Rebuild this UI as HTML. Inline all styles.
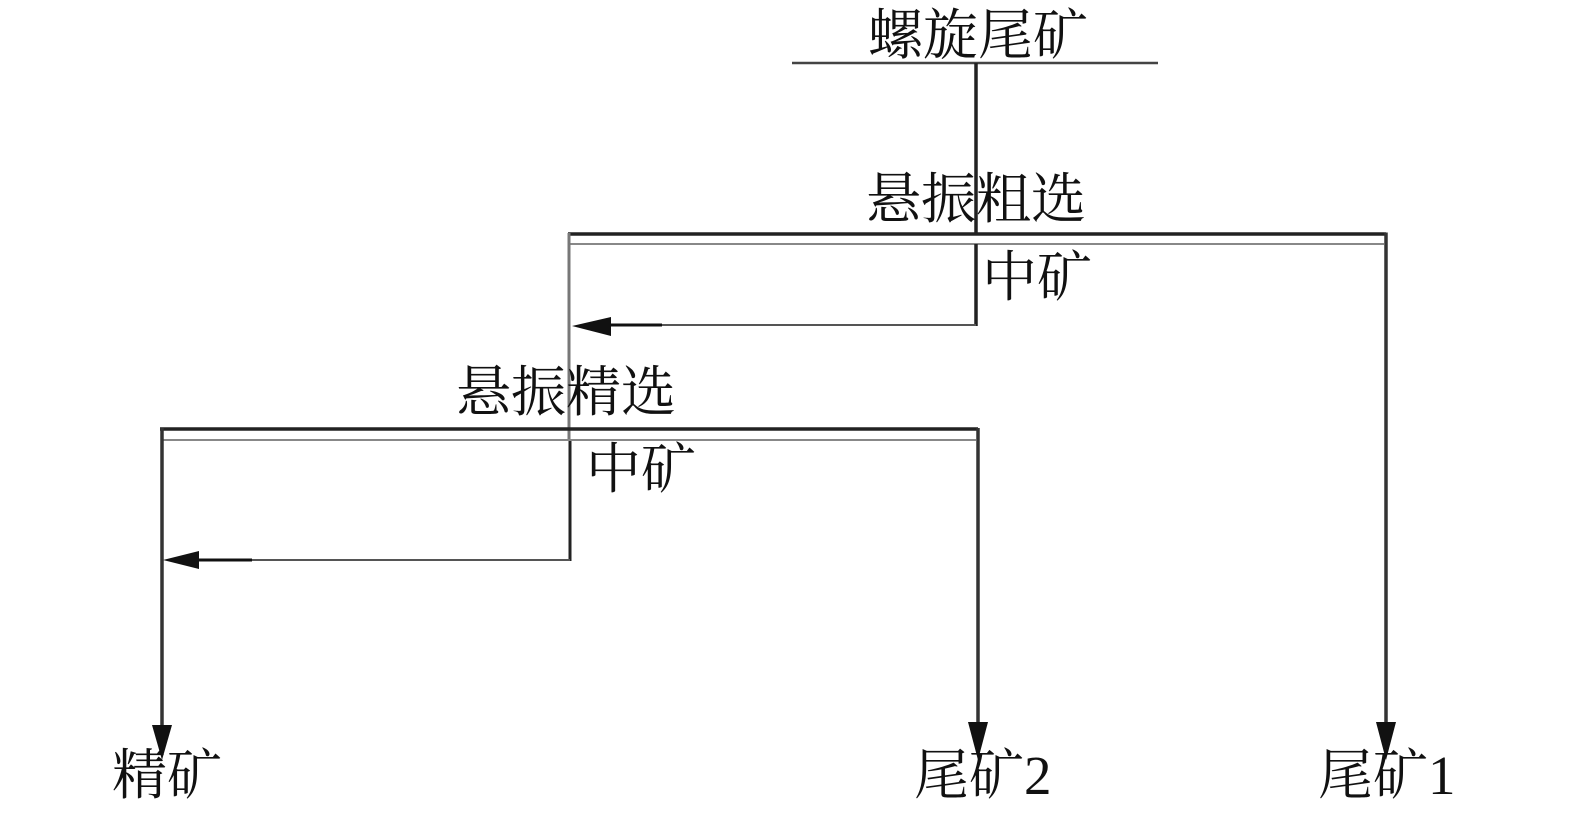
<!DOCTYPE html>
<html>
<head>
<meta charset="utf-8">
<style>
  html, body { margin:0; padding:0; background:#fff; }
  body { width:1575px; height:819px; overflow:hidden; }
  svg { display:block; }
  text { font-family: "Liberation Serif", "Noto Serif CJK SC", serif; font-size:55px; fill:#111; }
</style>
</head>
<body>
<svg width="1575" height="819" viewBox="0 0 1575 819" xmlns="http://www.w3.org/2000/svg">
  <!-- top feed line -->
  <line x1="792" y1="63" x2="1158" y2="63" stroke="#444" stroke-width="2.5"/>
  <line x1="976" y1="63" x2="976" y2="234" stroke="#222" stroke-width="3.5"/>

  <!-- Box 1: 悬振粗选 -->
  <line x1="568" y1="234" x2="1386" y2="234" stroke="#222" stroke-width="3.5"/>
  <line x1="569" y1="244" x2="1384" y2="244" stroke="#888" stroke-width="2"/>
  <line x1="1386" y1="232.5" x2="1386" y2="726" stroke="#333" stroke-width="3.5"/>
  <line x1="976" y1="244" x2="976" y2="326" stroke="#222" stroke-width="3.5"/>
  <!-- middlings return 1 -->
  <line x1="976" y1="325" x2="662" y2="325" stroke="#555" stroke-width="2"/>
  <line x1="662" y1="325" x2="608" y2="325" stroke="#111" stroke-width="3"/>
  <polygon points="572,326 611,317 611,336" fill="#111"/>
  <!-- left vertical of box 1 continuing to box 2 middlings -->
  <line x1="569" y1="233" x2="569" y2="441" stroke="#777" stroke-width="3"/>
  <line x1="570" y1="441" x2="570" y2="561" stroke="#222" stroke-width="3"/>

  <!-- Box 2: 悬振精选 -->
  <line x1="160" y1="429" x2="978" y2="429" stroke="#222" stroke-width="3.5"/>
  <line x1="162" y1="440" x2="976" y2="440" stroke="#888" stroke-width="2"/>
  <line x1="162" y1="428" x2="162" y2="728" stroke="#333" stroke-width="3.5"/>
  <line x1="978" y1="428" x2="978" y2="726" stroke="#333" stroke-width="3.5"/>
  <!-- middlings return 2 -->
  <line x1="570" y1="560" x2="252" y2="560" stroke="#555" stroke-width="2"/>
  <line x1="252" y1="560" x2="196" y2="560" stroke="#111" stroke-width="3"/>
  <polygon points="163,560 199,551 199,569" fill="#111"/>

  <!-- bottom arrowheads -->
  <polygon points="152,725 172,725 162,760" fill="#111"/>
  <polygon points="968,722 988,722 978,760" fill="#111"/>
  <polygon points="1376,722 1396,722 1386,760" fill="#111"/>

  <!-- labels -->
  <text x="868" y="54">螺旋尾矿</text>
  <text x="866" y="218">悬振粗选</text>
  <text x="982" y="296">中矿</text>
  <text x="456" y="411">悬振精选</text>
  <text x="586" y="488">中矿</text>
  <text x="112" y="794">精矿</text>
  <text x="914" y="794">尾矿2</text>
  <text x="1318" y="794">尾矿1</text>
</svg>
</body>
</html>
